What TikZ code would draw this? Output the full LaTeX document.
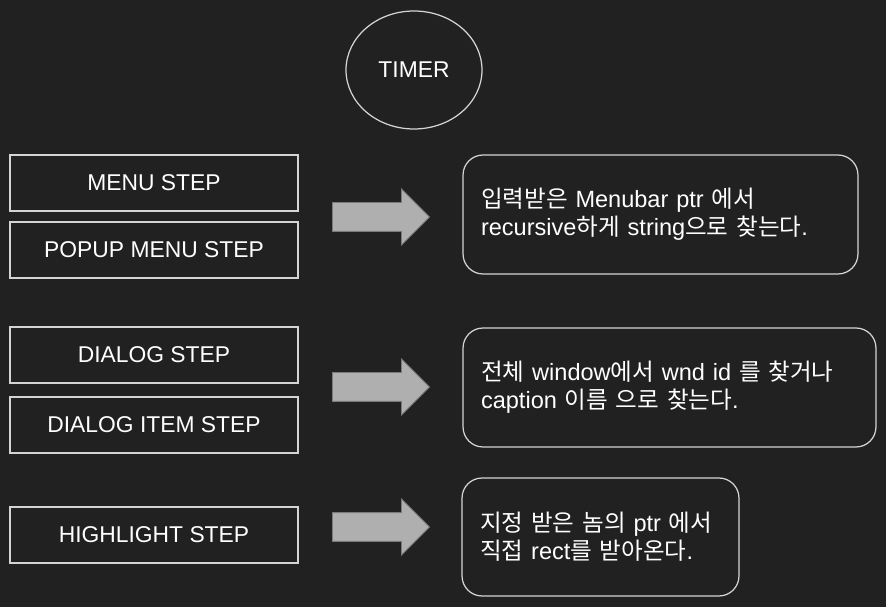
\documentclass[tikz,border=0pt]{standalone}
\usepackage{fontspec}
\setmainfont{Liberation Sans}
\newfontfamily\kr{Noto Sans CJK KR}
\usetikzlibrary{shapes.geometric, shapes.arrows, positioning}
\definecolor{SlideBack}{HTML}{212121}
\definecolor{SlideLine}{HTML}{D4D4D4}
\definecolor{ArrowFill}{HTML}{AFAFAF}
\definecolor{ArrowLine}{HTML}{7A7A7A}

\begin{document}
\begin{tikzpicture}[x=0.02cm, y=-0.02cm,
        stepbox/.style={draw=SlideLine, line width=0.7pt, minimum width=5.76cm, minimum height=1.12cm, text=white, font=\fontsize{13}{15.6}\selectfont},
        note/.style={draw=SlideLine, line width=0.7pt, rounded corners=0.4cm, inner xsep=0.36cm, align=left, text=white, font=\fontsize{13.4}{15.9}\selectfont},
        bigarrow/.style={shape=single arrow, fill=ArrowFill, draw=ArrowLine, line width=0.5pt, inner xsep=0pt, inner ysep=0.28cm, minimum height=1.94cm, single arrow head extend=0.27cm, anchor=tail}
    ]
    % background
    \fill[SlideBack] (0,0) rectangle (886,607);

    % timer
    \node[ellipse, draw=SlideLine, line width=0.7pt, minimum width=2.72cm, minimum height=2.36cm, text=white, font=\fontsize{13}{15.6}\selectfont] (timer) at (414,70) {TIMER};

    % steps (left column)
    \node[stepbox] (menu) at (154,183) {MENU STEP};
    \node[stepbox] (popup) at (154,250) {POPUP MENU STEP};
    \node[stepbox] (dialog) at (154,355) {DIALOG STEP};
    \node[stepbox] (dlgitem) at (154,425) {DIALOG ITEM STEP};
    \node[stepbox] (highlight) at (154,535) {HIGHLIGHT STEP};

    % block arrows
    \node[bigarrow] (arr1) at (332,217) {};
    \node[bigarrow] (arr2) at (332,387) {};
    \node[bigarrow] (arr3) at (332,527) {};

    % what each step does
    \node[note, text width=7.18cm, minimum height=2.38cm] (menunote) at (660.5,214.5)
        {{\kr 입력받은} Menubar ptr {\kr 에서}\\recursive{\kr 하게} string{\kr 으로 찾는다}.};
    \node[note, text width=7.54cm, minimum height=2.38cm] (dialognote) at (669.5,387.5)
        {{\kr 전체} window{\kr 에서} wnd id {\kr 를 찾거나}\\caption {\kr 이름 으로 찾는다}.};
    \node[note, text width=4.82cm, minimum height=2.36cm] (highlightnote) at (600.5,537)
        {{\kr 지정 받은 놈의} ptr {\kr 에서}\\{\kr 직접} rect{\kr 를 받아온다}.};
\end{tikzpicture}
\end{document}
